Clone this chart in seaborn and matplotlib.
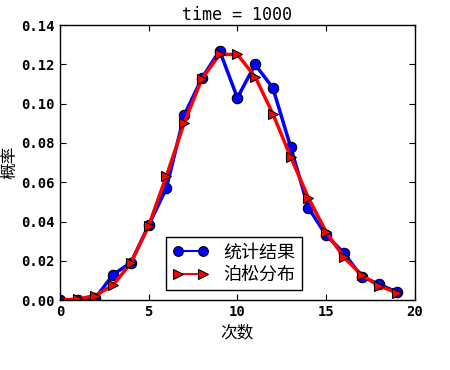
import numpy as np
import pandas as pd
import seaborn as sns
import matplotlib
matplotlib.use("Agg")
import matplotlib.pyplot as plt

# counts 0..19
times = list(range(20))
# observed frequency (1000 trials)
stat_freq = [0.000, 0.000, 0.001, 0.013, 0.019, 0.038, 0.057, 0.094, 0.113, 0.127,
             0.103, 0.120, 0.108, 0.078, 0.047, 0.033, 0.024, 0.012, 0.008, 0.004]
# poisson reference
poisson_p = [0.0000, 0.0005, 0.0023, 0.0076, 0.0189, 0.0378, 0.0631, 0.0901, 0.1126, 0.1251,
             0.1251, 0.1137, 0.0948, 0.0729, 0.0521, 0.0347, 0.0217, 0.0128, 0.0071, 0.0037]

sns.set_style("ticks", {'text.color': 'black', 'axes.labelcolor': 'black'})
plt.rcParams['font.family'] = ['Noto Sans CJK SC', 'DejaVu Sans']

df = pd.DataFrame({'x': times, 'stat': stat_freq, 'poisson': poisson_p})

fig = plt.figure(figsize=(4.5, 3.7), dpi=100)
ax = fig.add_axes([0.133, 0.189, 0.789, 0.743])

sns.lineplot(data=df, x='x', y='stat', ax=ax, color='blue', lw=2.5, marker='o',
             markersize=7.5, markerfacecolor='blue', markeredgecolor='black',
             markeredgewidth=0.8, label='统计结果')
sns.lineplot(data=df, x='x', y='poisson', ax=ax, color='red', lw=2.5, marker='>',
             markersize=7.5, markerfacecolor='red', markeredgecolor='black',
             markeredgewidth=0.8, label='泊松分布')

ax.set_xlim(0, 20)
ax.set_ylim(0, 0.14)
ax.set_xticks([0, 5, 10, 15, 20])
ax.set_yticks(np.arange(0, 0.141, 0.02))
ax.set_yticklabels(['%.2f' % v for v in np.arange(0, 0.141, 0.02)])
mono = ['DejaVu Sans Mono']
for t in ax.get_xticklabels() + ax.get_yticklabels():
    t.set_fontfamily(mono)
    t.set_fontsize(10)
    t.set_fontweight('bold')
ax.tick_params(direction='in', top=True, right=True, length=4, width=0.8, colors='black')
for s in ax.spines.values():
    s.set_visible(True)
    s.set_color('black')
    s.set_linewidth(1)

ax.set_title('time = 1000', fontfamily=mono, fontsize=12, color='black', pad=4)
ax.set_xlabel('次数', fontsize=12, color='black')
ax.set_ylabel('概率', fontsize=12, color='black', labelpad=2)

leg = ax.legend(loc='lower left', bbox_to_anchor=(0.30, 0.035), fontsize=13,
                numpoints=2, fancybox=False, framealpha=1, edgecolor='black',
                handlelength=2.0, borderpad=0.35, labelspacing=0.25, borderaxespad=0)
leg.get_frame().set_linewidth(1)
for h in leg.get_lines():
    h.set_linewidth(1.5)
    h.set_markersize(7)
for t in leg.get_texts():
    t.set_color('black')

fig.savefig('out.png', dpi=100)
